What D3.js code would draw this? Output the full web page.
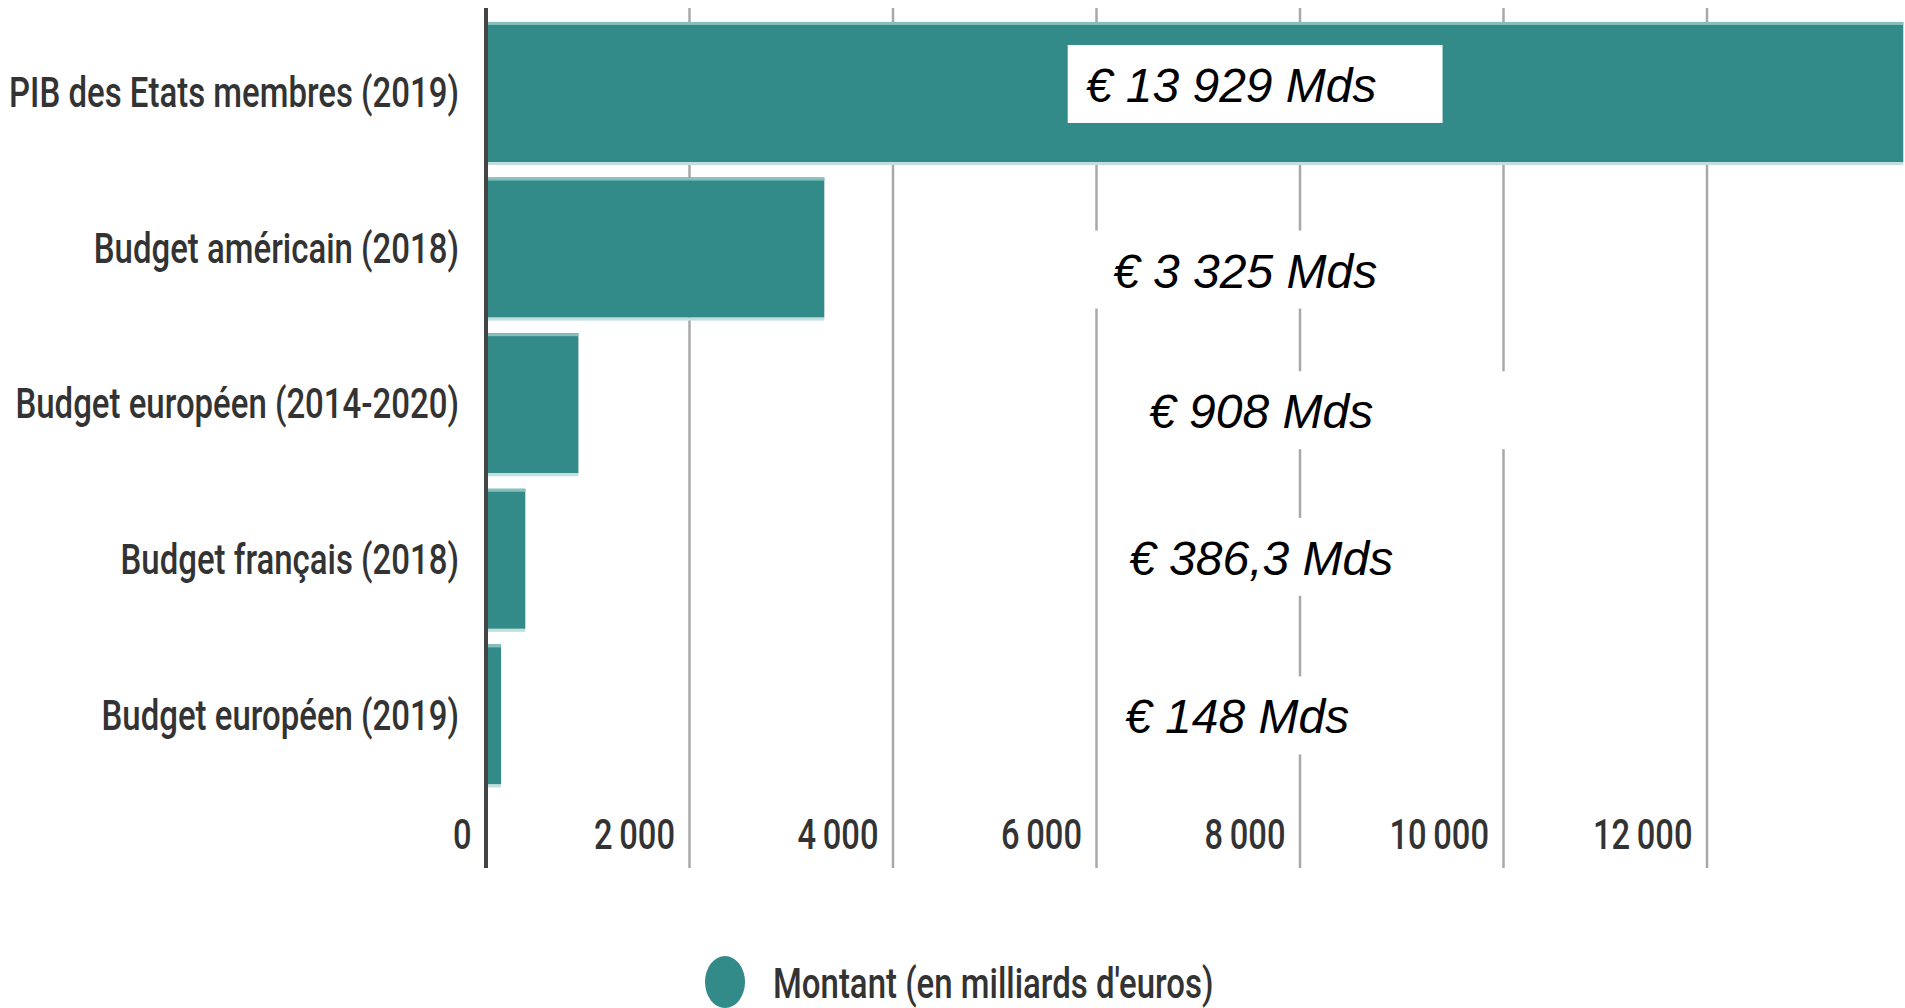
<!DOCTYPE html>
<html>
<head>
<meta charset="utf-8">
<script src="https://cdn.jsdelivr.net/npm/d3@7"></script>
<style>
  body { margin: 0; background: #fff; }
  svg { display: block; }
</style>
</head>
<body>
<div id="chart"></div>
<script>
// Data
const categories = ["PIB des Etats membres (2019)", "Budget américain (2018)",
  "Budget européen (2014-2020)", "Budget français (2018)", "Budget européen (2019)"];
const values = [13929, 3325, 908, 386.3, 148];
const valueLabels = ["€ 13 929 Mds", "€ 3 325 Mds", "€ 908 Mds", "€ 386,3 Mds", "€ 148 Mds"];
const tickValues = [0, 2000, 4000, 6000, 8000, 10000, 12000];
const legendLabel = "Montant (en milliards d'euros)";

// layout
const width = 1905, height = 1008;
const teal = "#338b89";
const squish = 0.785; // narrow text look
const tickSquish = 0.76;
const labelNudge = [[-18, 10], [-4, 40], [12, 25], [12, 16], [-12, 19]];
const boxRight = [66, 66, 140, 66, 66];

let svg = d3.select("#chart")
  .append("svg")
  .attr("width", width)
  .attr("height", height);

let x = d3.scaleLinear()
  .domain([0, 12000])
  .range([486, 1707]);

let y = d3.scaleBand()
  .domain(categories)
  .range([6.4, 800])
  .padding(0.1);

const gridTop = 8, gridBottom = 868;

// grid lines
svg.append("g")
  .selectAll("line")
  .data(tickValues.slice(1))
  .enter()
  .append("line")
    .attr("x1", d => x(d))
    .attr("x2", d => x(d))
    .attr("y1", gridTop)
    .attr("y2", gridBottom)
    .attr("stroke", "#a8a8a8")
    .attr("stroke-width", 2.5);

// bars
let bars = svg.append("g");
bars.selectAll("rect.bar")
  .data(values)
  .enter()
  .append("rect")
    .attr("class", "bar")
    .attr("x", x(0))
    .attr("y", (d, i) => y(categories[i]))
    .attr("width", d => x(d) - x(0))
    .attr("height", y.bandwidth())
    .attr("fill", teal);
// soft edges on the bars
bars.selectAll("rect.top")
  .data(values)
  .enter()
  .append("rect")
    .attr("x", x(0))
    .attr("y", (d, i) => y(categories[i]))
    .attr("width", d => x(d) - x(0))
    .attr("height", 3)
    .attr("fill", "#86bfbc");
bars.selectAll("rect.bottom")
  .data(values)
  .enter()
  .append("rect")
    .attr("x", x(0))
    .attr("y", (d, i) => y(categories[i]) + y.bandwidth())
    .attr("width", d => x(d) - x(0))
    .attr("height", 3)
    .attr("fill", "#c2dfdd");

// value labels with white boxes
let labels = svg.append("g");
valueLabels.forEach(function(t, i) {
  let cx = x(7500) + labelNudge[i][0];
  let by = y(categories[i]) + y.bandwidth() / 2 + labelNudge[i][1];
  let box = labels.append("rect").attr("fill", "#fff");
  let txt = labels.append("text")
    .attr("x", cx)
    .attr("y", by)
    .attr("text-anchor", "middle")
    .style("font-family", "'Liberation Sans', Arial, sans-serif")
    .style("font-style", "italic")
    .style("font-size", "48px")
    .attr("fill", "#000")
    .text(t);
  let bb = txt.node().getBBox();
  box.attr("x", bb.x - 18)
    .attr("y", by - 57)
    .attr("width", bb.width + 18 + boxRight[i])
    .attr("height", 78);
});

// y axis line
svg.append("line")
  .attr("x1", x(0)).attr("x2", x(0))
  .attr("y1", gridTop).attr("y2", gridBottom)
  .attr("stroke", "#444")
  .attr("stroke-width", 4);

const textFont = "Roboto, sans-serif";
const textColor = "#333";

// category labels
svg.append("g")
  .selectAll("text")
  .data(categories)
  .enter()
  .append("text")
    .attr("transform", d => "translate(459," + (y(d) + y.bandwidth() / 2) + ") scale(" + squish + ",1)")
    .attr("text-anchor", "end")
    .attr("dy", "0.36em")
    .style("font-family", textFont)
    .style("font-weight", 500)
    .style("font-size", "42px")
    .attr("fill", textColor)
    .text(d => d);

// x axis
let fmt = d3.formatLocale({decimal: ",", thousands: "\u2009", grouping: [3], currency: ["", ""]}).format(",d");
let xAxis = svg.append("g")
  .attr("transform", "translate(0,818)")
  .call(d3.axisBottom(x).tickValues(tickValues).tickFormat(fmt).tickSize(0));
xAxis.select(".domain").remove();
xAxis.selectAll("text")
  .attr("text-anchor", "end")
  .attr("x", 0)
  .attr("y", 0)
  .attr("dy", "0.71em")
  .attr("transform", "translate(-15,0) scale(" + tickSquish + ",1)")
  .style("font-family", textFont)
  .style("font-weight", 500)
  .style("font-size", "43px")
  .attr("fill", textColor);

// legend
let legend = svg.append("g");
legend.append("ellipse")
  .attr("cx", 725).attr("cy", 982)
  .attr("rx", 20).attr("ry", 26)
  .attr("fill", teal);
legend.append("text")
  .attr("transform", "translate(773,998) scale(" + squish + ",1)")
  .style("font-family", textFont)
  .style("font-weight", 500)
  .style("font-size", "42px")
  .attr("fill", textColor)
  .text(legendLabel);
</script>
</body>
</html>
